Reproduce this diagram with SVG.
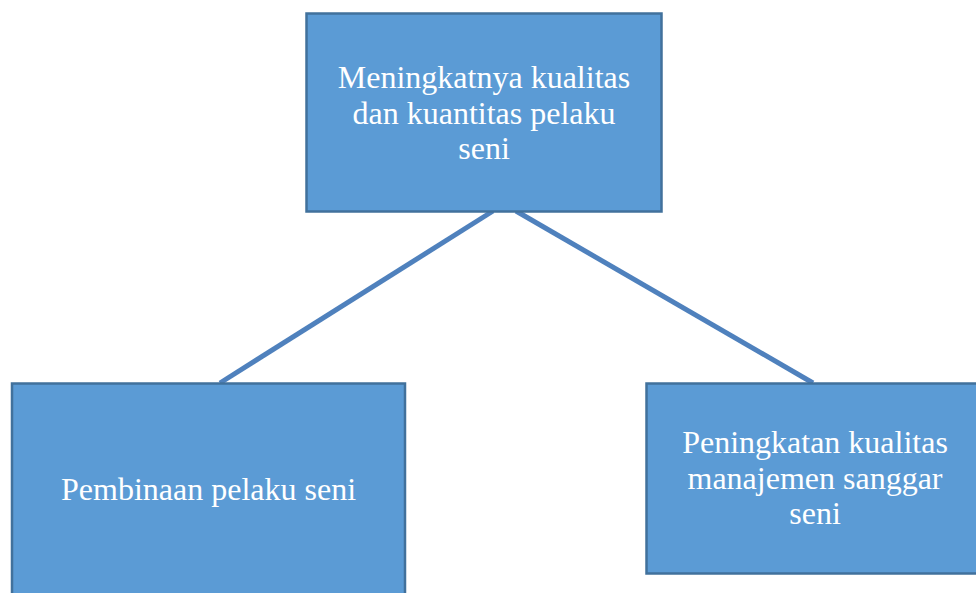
<svg xmlns="http://www.w3.org/2000/svg" width="976" height="593" viewBox="0 0 976 593">
<style>
.box{fill:#5B9BD5;stroke:#41719C;stroke-width:2.5}
.t{font-family:"Liberation Serif","Times New Roman",serif;font-size:32px;fill:#FFFFFF;text-anchor:middle}
.conn{stroke:#4F81BD;stroke-width:5;fill:none}
</style>
<rect width="976" height="593" fill="#FFFFFF"/>
<g id="connectors">
<line class="conn" x1="493" y1="211" x2="220" y2="383"/>
<line class="conn" x1="516" y1="211" x2="813" y2="383"/>
</g>
<g id="node-top">
<rect class="box" x="306.5" y="13.5" width="355" height="198"/>
<text class="t" x="484" y="88">Meningkatnya kualitas</text>
<text class="t" x="484" y="123.5">dan kuantitas pelaku</text>
<text class="t" x="484" y="159">seni</text>
</g>
<g id="node-left">
<rect class="box" x="12" y="383.5" width="393" height="220"/>
<text class="t" x="208.5" y="500">Pembinaan pelaku seni</text>
</g>
<g id="node-right">
<rect class="box" x="646.5" y="383.5" width="340" height="190"/>
<text class="t" x="815" y="453">Peningkatan kualitas</text>
<text class="t" x="815" y="488.5">manajemen sanggar</text>
<text class="t" x="815" y="524">seni</text>
</g>
</svg>
